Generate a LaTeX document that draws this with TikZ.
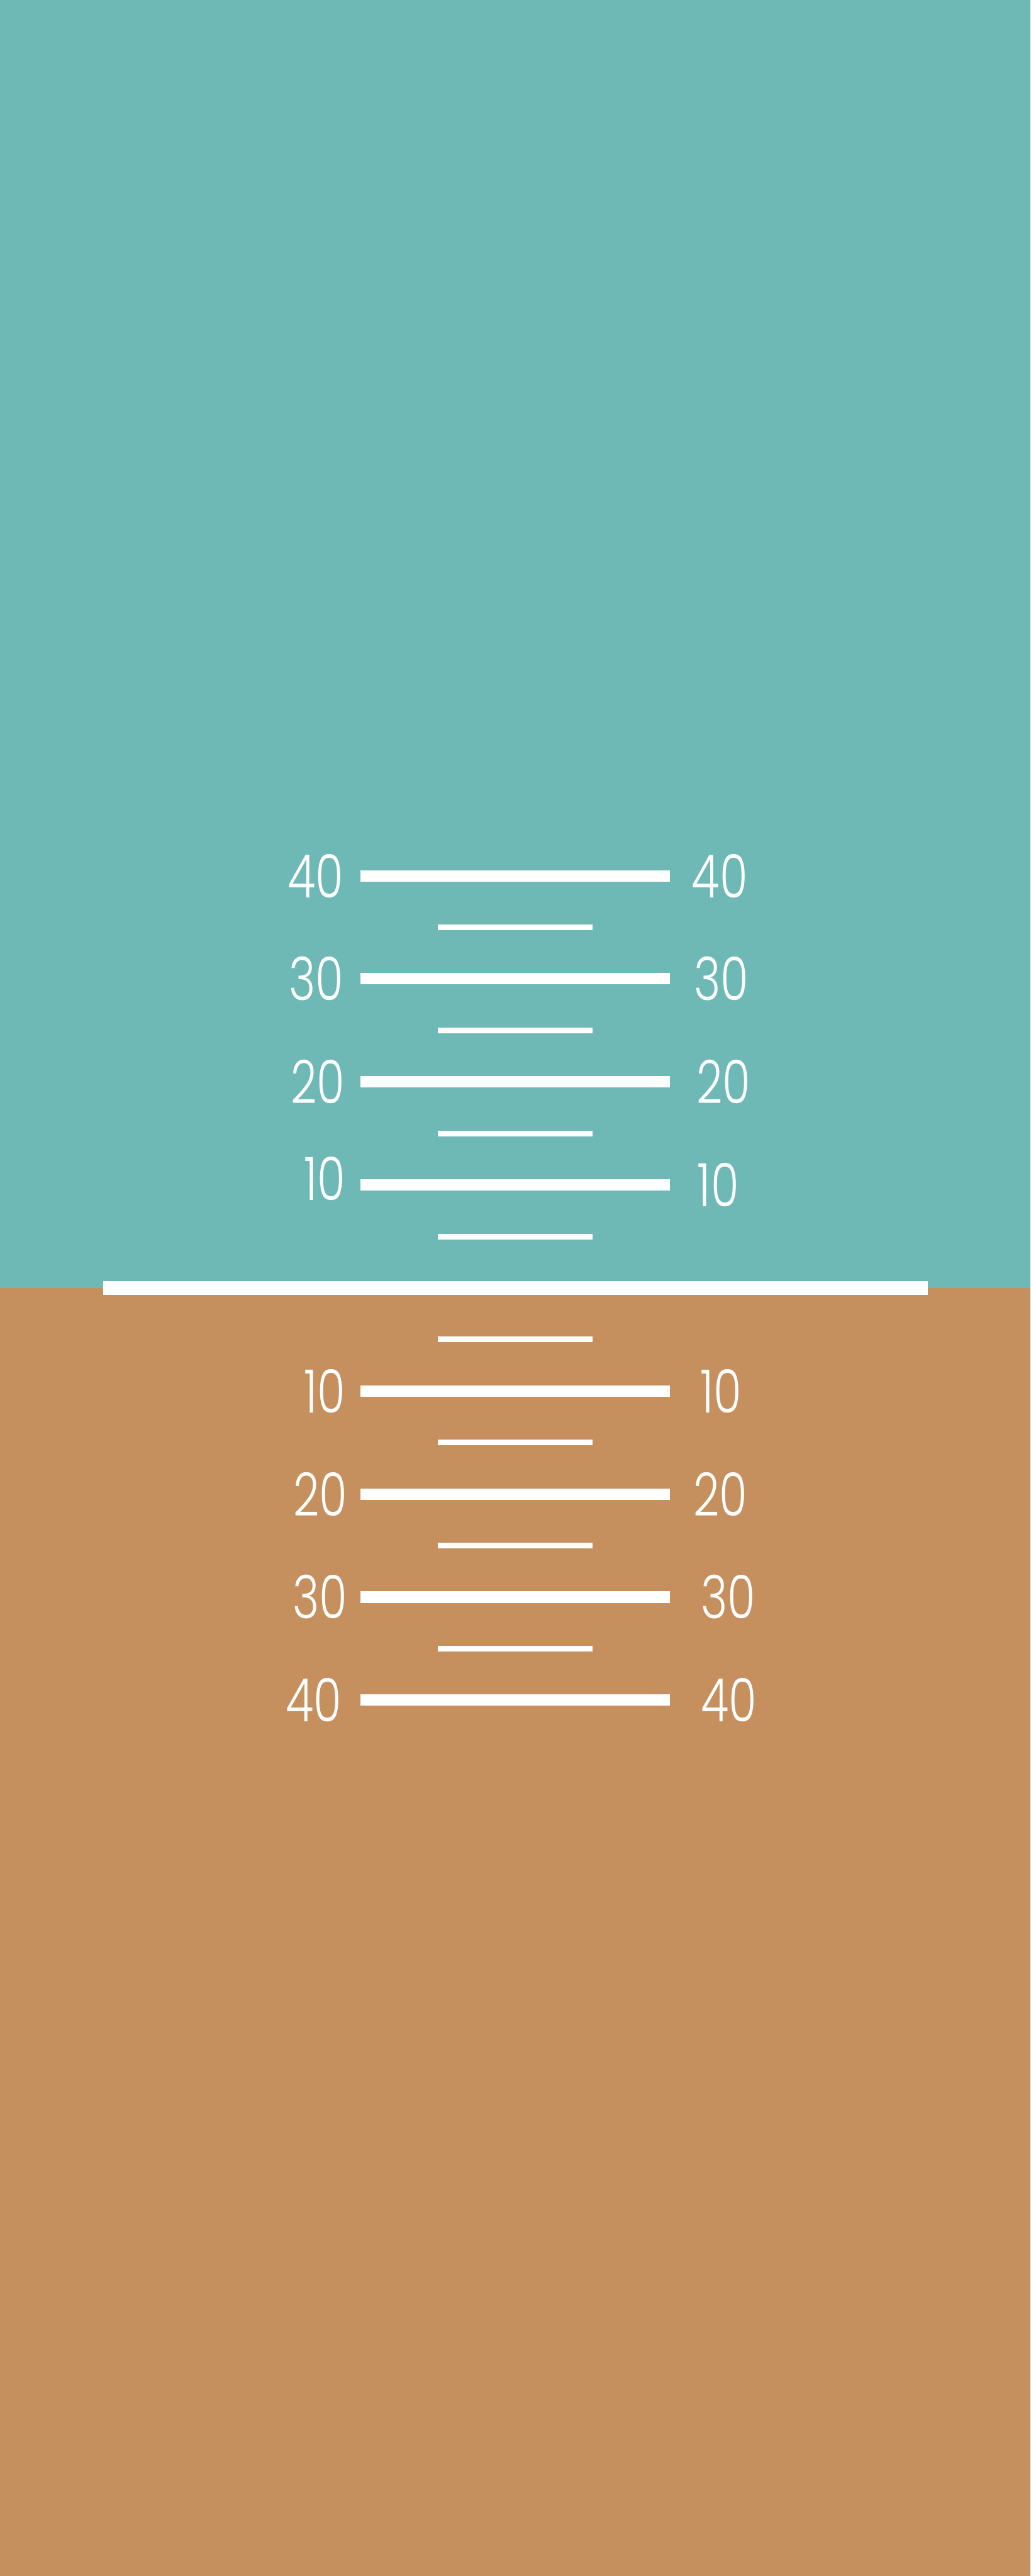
\documentclass[tikz,border=0pt]{standalone}
\usepackage{fontspec}
\newfontfamily\gaugefont{Poppins Light}[FakeStretch=0.76]
\definecolor{water}{RGB}{110,184,182}
\definecolor{ground}{RGB}{197,143,94}

\tikzset{
    longtick/.style={white, line width=.22cm},
    shorttick/.style={white, line width=.11cm},
    lbl/.style={white, inner sep=0pt, font=\gaugefont\fontsize{33}{38}\selectfont},
}

\begin{document}
\begin{tikzpicture}
    \useasboundingbox (0,0) rectangle (20,50);
    \fill[water] (0,25) rectangle (20,50);
    \fill[ground] (0,0) rectangle (20,25);
    \draw[white, line width=.28cm] (2,25) -- (18,25);
    % ticks above and below the zero line
    \foreach \y in {1,3,5,7}
	\draw[shorttick] (8.5,25+\y) -- (11.5,25+\y)
	    (8.5,25-\y) -- (11.5,25-\y);
    \foreach \y in {2,4,6,8}
	\draw[longtick] (7,25+\y) -- (13,25+\y)
	    (7,25-\y) -- (13,25-\y);
    % labels: name/height/left edge/right edge/shift
    \foreach \n/\y/\l/\r/\d in {u40/33/6.67/13.42/0, u30/31/6.67/13.46/0,
	    u20/29/6.70/13.51/0, u10/27/6.71/13.53/.12,
	    d10/23/6.71/13.58/0, d20/21/6.75/13.45/0,
	    d30/19/6.75/13.60/0, d40/17/6.64/13.60/0}
	\pgfmathtruncatemacro{\v}{abs(\y-25)*5}
	\node[lbl, anchor=east] (\n l) at (\l,\y+\d) {\v}
	    node[lbl, anchor=west] (\n r) at (\r,\y) {\v};
\end{tikzpicture}
\end{document}
